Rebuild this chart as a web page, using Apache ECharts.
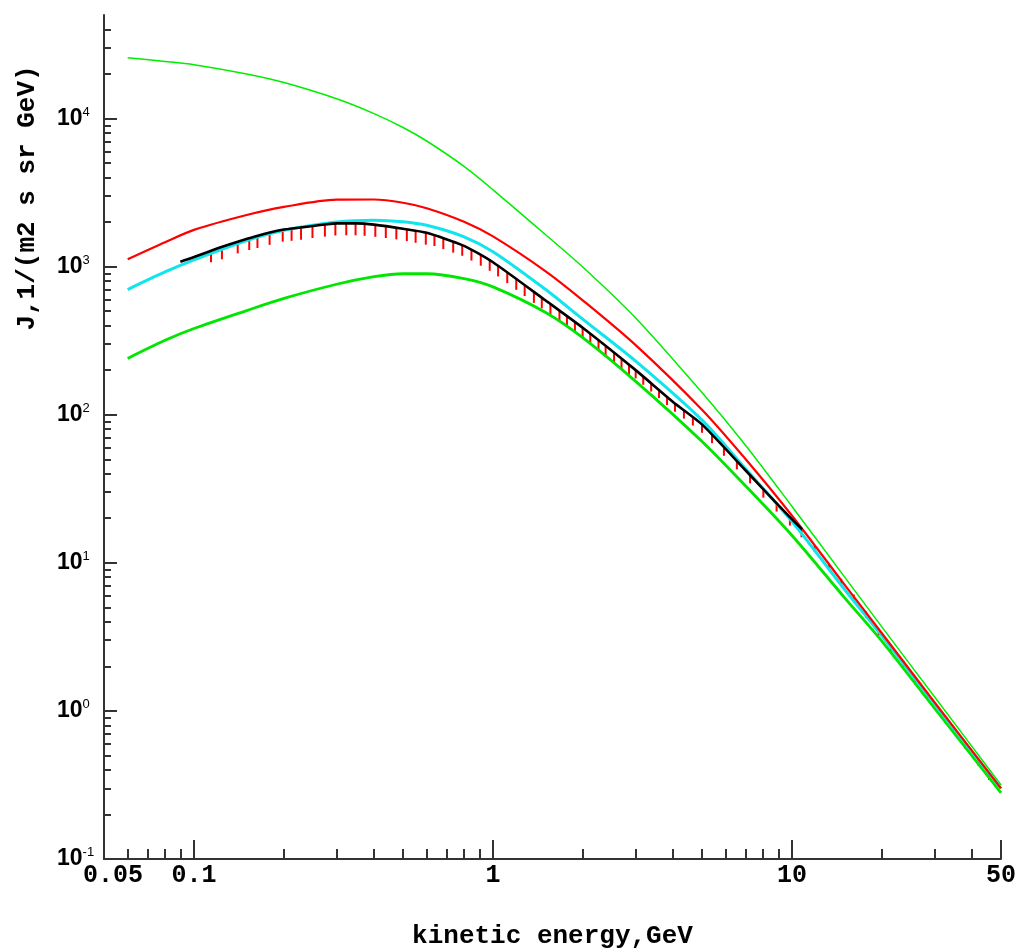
<!DOCTYPE html>
<html>
<head>
<meta charset="utf-8">
<script src="https://cdn.jsdelivr.net/npm/echarts@6/dist/echarts.min.js"></script>
<style>
html, body { margin: 0; background: #fff; }
#chart { width: 1024px; height: 952px; }
</style>
</head>
<body>
<div id="chart"></div>
<script>
// model curves, common energy grid (GeV)
var energy     = [0.06, 0.08, 0.1, 0.15, 0.2, 0.3, 0.4, 0.5, 0.6, 0.8, 1, 1.5, 2, 3, 5, 7, 10, 15, 20, 30, 50];
var upperGreen = [25700, 24300, 23100, 20000, 17500, 13600, 10800, 8700, 7050, 4750, 3300, 1640, 990, 450, 141, 62, 24, 8.0, 3.68, 1.24, 0.316];
var redCurve   = [1120, 1460, 1770, 2230, 2530, 2830, 2840, 2700, 2480, 2010, 1600, 930, 590, 295, 108, 50, 20.8, 7.1, 3.33, 1.14, 0.3];
var cyanCurve  = [700, 920, 1110, 1500, 1760, 2000, 2060, 2010, 1900, 1590, 1260, 700, 440, 230, 92, 43, 19, 6.6, 3.2, 1.11, 0.3];
var lowerGreen = [240, 318, 382, 505, 610, 760, 855, 895, 895, 830, 730, 490, 330, 168, 66, 33, 15.3, 5.8, 2.95, 1.04, 0.28];

// measured spectrum (black)
var blackE = [0.09, 0.1, 0.12, 0.135, 0.16, 0.2, 0.25, 0.3, 0.35, 0.4, 0.5, 0.6, 0.8, 1.0, 1.5, 2, 3, 4, 5, 7, 9, 10.8];
var blackJ = [1080, 1160, 1330, 1440, 1600, 1780, 1880, 1960, 1960, 1920, 1800, 1690, 1380, 1070, 590, 385, 200, 122, 86, 42, 24.5, 16.8];

// data points with lower error bars (red)
var errE = [0.114, 0.124, 0.140, 0.153, 0.163, 0.179, 0.198, 0.212, 0.228, 0.249, 0.274, 0.297, 0.323, 0.347, 0.372, 0.404, 0.438, 0.475, 0.515, 0.551,
            0.596, 0.637, 0.682, 0.736, 0.789, 0.847, 0.910, 0.975, 1.04, 1.116, 1.196, 1.276, 1.37, 1.456, 1.556, 1.668, 1.767, 1.879, 1.994, 2.115,
            2.253, 2.38, 2.54, 2.69, 2.85, 3.0, 3.18, 3.38, 3.59, 3.82, 4.06, 4.35, 4.66, 5.0, 5.40, 5.92, 6.54, 7.24, 8.02, 8.88,
            9.84, 10.76, 11.9, 13.3, 14.6, 16.1, 17.7, 19.5, 21.4, 23.6, 25.8, 28.4, 31.5, 34.6, 37.9, 42.0, 45.6];
var errJ = [1290, 1350, 1480, 1560, 1610, 1690, 1775, 1800, 1830, 1880, 1920, 1955, 1960, 1960, 1945, 1915, 1880, 1840, 1790, 1745,
            1695, 1620, 1545, 1462, 1393, 1293, 1193, 1103, 1010, 910, 820, 745, 670, 615, 558, 505, 463, 423, 387, 352,
            317, 290, 261, 238, 217, 200, 181, 163, 147, 132, 119, 107, 96, 86, 73, 60, 48.6, 39.1, 31.3, 25.2,
            20.3, 16.9, 13.2, 9.9, 7.8, 6.1, 4.7, 3.6, 2.8, 2.18, 1.7, 1.33, 1.0, 0.79, 0.62, 0.475, 0.38];
var errPct = [17, 17, 17, 17, 17, 17, 17, 17, 17, 17, 17, 17, 17, 17, 17, 17, 17, 17, 17, 17,
              17, 15, 15, 15, 15, 15, 15, 15, 15, 15, 15, 15, 15, 15, 15, 15, 15, 15, 15, 15,
              15, 15, 15, 15, 15, 12, 12, 12, 12, 12, 12, 12, 12, 12, 12, 12, 12, 12, 12, 12,
              12, 12, 10, 10, 10, 10, 10, 10, 10, 10, 10, 10, 10, 10, 10, 10, 10];

// axis ticks
var xLabels = [0.05, 0.1, 1, 10, 50];
var xMajor = [0.1, 1, 10, 50];
var xMinor = [0.06, 0.07, 0.08, 0.09, 0.2, 0.3, 0.4, 0.5, 0.6, 0.7, 0.8, 0.9,
              2, 3, 4, 5, 6, 7, 8, 9, 20, 30, 40];
var yMajor = [0.1, 1, 10, 100, 1000, 10000];
var yMinor = [];
yMajor.forEach(function (d) {
    for (var m = 2; m <= 9; m++) {
        if (d * m < 50000) yMinor.push(+(d * m).toPrecision(3));
    }
});

function pairs(xs, ys) {
    return xs.map(function (x, i) { return [x, ys[i]]; });
}

var monoFont = '"Liberation Mono", "Courier New", monospace';
var sansFont = '"Liberation Sans", Arial, sans-serif';
var axisColor = '#333';

var myChart = echarts.init(document.getElementById('chart'));

var baseX = { type: 'log', logBase: 10, min: 0.05, max: 50, position: 'bottom', splitLine: { show: false } };
var baseY = { type: 'log', logBase: 10, min: 0.1, max: 50000, position: 'left', splitLine: { show: false } };

var option = {
    animation: false,
    backgroundColor: '#fff',
    grid: { left: 104, right: 23, top: 15, bottom: 93, outerBoundsMode: 'none' },
    xAxis: [
        Object.assign({}, baseX, {
            axisLine: { onZero: false, lineStyle: { color: axisColor, width: 2 } },
            axisTick: { inside: true, length: 19, customValues: xMajor, lineStyle: { color: axisColor, width: 2 } },
            axisLabel: {
                customValues: xLabels,
                margin: 4,
                color: '#000',
                fontFamily: monoFont,
                fontWeight: 'bold',
                fontSize: 25,
                formatter: function (v) {
                    var s = String(+v.toPrecision(4));
                    return s === '0.05' ? '{p|' + s + '}' : s;
                },
                rich: { p: { padding: [0, 0, 0, 18], fontFamily: monoFont, fontWeight: 'bold', fontSize: 25, color: '#000' } }
            },
            name: 'kinetic energy,GeV',
            nameLocation: 'middle',
            nameGap: 64,
            nameTextStyle: { color: '#000', fontFamily: monoFont, fontWeight: 'bold', fontSize: 26 }
        }),
        Object.assign({}, baseX, {
            axisLine: { show: false, onZero: false },
            axisTick: { inside: true, length: 10, customValues: xMinor, lineStyle: { color: axisColor, width: 2 } },
            axisLabel: { show: false }
        })
    ],
    yAxis: [
        Object.assign({}, baseY, {
            axisLine: { onZero: false, lineStyle: { color: axisColor, width: 2 } },
            axisTick: { inside: true, length: 13, customValues: yMajor, lineStyle: { color: axisColor, width: 2 } },
            axisLabel: {
                customValues: yMajor,
                align: 'left',
                margin: 47,
                formatter: function (v) {
                    return '{b|10}{s|' + Math.round(Math.log10(v)) + '}';
                },
                rich: {
                    b: { fontFamily: sansFont, fontWeight: 'bold', fontSize: 23, color: '#000', lineHeight: 26 },
                    s: { fontFamily: sansFont, fontSize: 13, color: '#000', verticalAlign: 'top', lineHeight: 26 }
                }
            }
        }),
        Object.assign({}, baseY, {
            axisLine: { show: false, onZero: false },
            axisTick: { inside: true, length: 7, customValues: yMinor, lineStyle: { color: axisColor, width: 2 } },
            axisLabel: { show: false }
        })
    ],
    graphic: [{
        type: 'text',
        x: 27,
        y: 198,
        rotation: Math.PI / 2,
        style: {
            text: 'J,1/(m2 s sr GeV)',
            fill: '#000',
            font: 'bold 26px ' + monoFont,
            align: 'center',
            verticalAlign: 'middle'
        }
    }],
    series: [
        {
            name: 'upper', type: 'line', data: pairs(energy, upperGreen), showSymbol: false, smooth: 0.3,
            lineStyle: { color: '#00ee00', width: 1.5 }
        },
        {
            name: 'lower', type: 'line', data: pairs(energy, lowerGreen), showSymbol: false, smooth: 0.3,
            lineStyle: { color: '#00e600', width: 2.8 }
        },
        {
            name: 'cyan', type: 'line', data: pairs(energy, cyanCurve), showSymbol: false, smooth: 0.3,
            lineStyle: { color: '#10e4ec', width: 3 }
        },
        {
            name: 'red', type: 'line', data: pairs(energy, redCurve), showSymbol: false, smooth: 0.3,
            lineStyle: { color: '#ff0000', width: 2.2 }
        },
        {
            name: 'points', type: 'custom',
            data: errE.map(function (e, i) { return [e, errJ[i], errJ[i] * (1 - errPct[i] / 100)]; }),
            encode: { x: 0, y: [1, 2] },
            renderItem: function (params, api) {
                var top = api.coord([api.value(0), api.value(1)]);
                var bottom = api.coord([api.value(0), api.value(2)]);
                return {
                    type: 'line',
                    shape: { x1: top[0], y1: top[1], x2: bottom[0], y2: bottom[1] },
                    style: { stroke: '#ff0000', lineWidth: 2 }
                };
            }
        },
        {
            name: 'measured', type: 'line', data: pairs(blackE, blackJ), showSymbol: false, smooth: 0.2,
            lineStyle: { color: '#000', width: 2.6 }
        }
    ]
};
myChart.setOption(option);
</script>
</body>
</html>
